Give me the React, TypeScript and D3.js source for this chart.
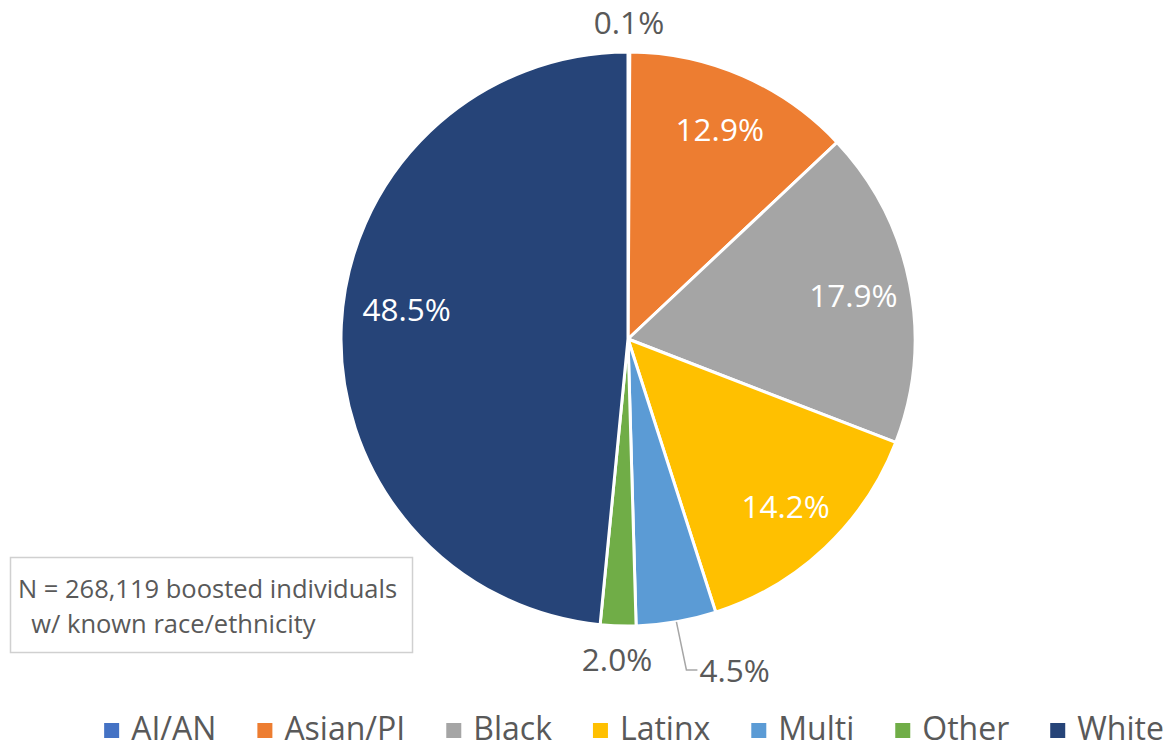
import React, { useLayoutEffect, useRef, useState } from "react";
import * as d3 from "d3";

const categories = ["AI/AN", "Asian/PI", "Black", "Latinx", "Multi", "Other", "White"];
const shares = [0.1, 12.9, 17.9, 14.2, 4.5, 2.0, 48.5];
const colors = ["#4472C4", "#ED7D31", "#A5A5A5", "#FFC000", "#5B9BD5", "#70AD47", "#264478"];
// labels drawn inside the slice (white) vs outside (grey)
const insideLabel = [false, true, true, true, false, false, true];
const noteLines = ["N = 268,119 boosted individuals", "  w/ known race/ethnicity"];

const W = 1173;
const H = 749;
const cx = 628;
const cy = 339;
const R = 287;
const FONT = "'Open Sans', 'Noto Sans', sans-serif";
const grey = "#595959";

const App = () => {
  const legendRef = useRef<SVGGElement>(null);
  const [widths, setWidths] = useState<number[]>(categories.map(() => 60));

  useLayoutEffect(() => {
    document.body.style.margin = "0";
    if (!legendRef.current) return;
    const w: number[] = [];
    d3.select(legendRef.current)
      .selectAll<SVGTextElement, unknown>("text")
      .each(function () {
        w.push(this.getComputedTextLength());
      });
    if (w.some((v, i) => Math.abs(v - widths[i]) > 0.5)) setWidths(w);
  }, [widths]);

  const pie = d3.pie<number>().sort(null).value((d) => d);
  const arcs = pie(shares);
  const arc = d3.arc<d3.PieArcDatum<number>>().innerRadius(0).outerRadius(R);
  const labelArcIn = d3.arc<d3.PieArcDatum<number>>().innerRadius(R * 0.8).outerRadius(R * 0.8);
  const labelArcOut = d3.arc<d3.PieArcDatum<number>>().innerRadius(R * 1.11).outerRadius(R * 1.11);
  const edgeArc = d3.arc<d3.PieArcDatum<number>>().innerRadius(R).outerRadius(R);

  // legend layout
  const sq = 15;
  const gapSq = 12;
  const gapItem = 41;
  const total = widths.reduce((s, w) => s + sq + gapSq + w, 0) + gapItem * (widths.length - 1);
  let lx = 634 - total / 2;
  const legendX: number[] = [];
  widths.forEach((w) => {
    legendX.push(lx);
    lx += sq + gapSq + w + gapItem;
  });

  return (
    <svg width={W} height={H} style={{ display: "block", background: "#fff" }} fontFamily={FONT}>
      <g transform={`translate(${cx},${cy})`}>
        {arcs.map((a, i) => (
          <path key={categories[i]} d={arc(a) ?? ""} fill={colors[i]} stroke="#fff" strokeWidth={3} strokeLinejoin="round" />
        ))}
        {arcs.map((a, i) => {
          const label = `${shares[i].toFixed(1)}%`;
          if (insideLabel[i]) {
            let [x, y] = labelArcIn.centroid(a);
            // Excel nudges the big slice's label up a little
            if (categories[i] === "White") {
              x += 8;
              y -= 19;
            }
            return (
              <text key={i} x={x} y={y} fill="#fff" fontSize={31.5} textAnchor="middle" dominantBaseline="central">
                {label}
              </text>
            );
          }
          if (categories[i] === "Multi") {
            const [ex, ey] = edgeArc.centroid(a);
            const yL = ey + 48;
            return (
              <g key={i}>
                <polyline points={`${ex},${ey} ${ex + 10},${yL} ${ex + 21},${yL}`} fill="none" stroke="#A6A6A6" strokeWidth={1.5} />
                <text x={ex + 23} y={yL} fill={grey} fontSize={31.5} dominantBaseline="central">
                  {label}
                </text>
              </g>
            );
          }
          const [x, y] = labelArcOut.centroid(a);
          return (
            <text key={i} x={x} y={y + 1} fill={grey} fontSize={31.5} textAnchor="middle" dominantBaseline="central">
              {label}
            </text>
          );
        })}
      </g>

      <g>
        <rect x={10.5} y={557.5} width={402} height={95} fill="#fff" stroke="#D0D0D0" strokeWidth={1.5} />
        {noteLines.map((t, i) => (
          <text key={i} x={18} y={598 + i * 35} fill={grey} fontSize={25.5} style={{ whiteSpace: "pre" }}>
            {t}
          </text>
        ))}
      </g>

      <g ref={legendRef}>
        {categories.map((c, i) => (
          <g key={c}>
            <rect x={legendX[i]} y={723} width={sq} height={sq} fill={colors[i]} />
            <text x={legendX[i] + sq + gapSq} y={740} fill={grey} fontSize={32}>
              {c}
            </text>
          </g>
        ))}
      </g>
    </svg>
  );
};

export default App;
